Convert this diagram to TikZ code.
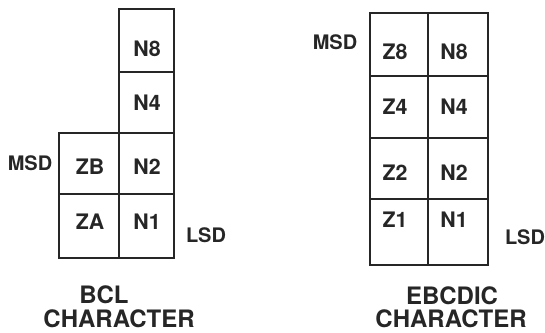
\documentclass[tikz,border=0pt]{standalone}
\usepackage{fontspec}
\setmainfont{TeX Gyre Heros}
\begin{document}
\begin{tikzpicture}[x=0.75pt,y=-0.75pt,
  gridline/.style={draw=black!85, line width=1.5pt},
  celltxt/.style={font=\bfseries\fontsize{16}{16}\selectfont, text=black!85},
  sidetxt/.style={font=\bfseries\fontsize{15}{15}\selectfont, text=black!85},
  captxt/.style={font=\bfseries\fontsize{18}{18}\selectfont, text=black!85, anchor=base, inner sep=0pt}]
\useasboundingbox (0,0) rectangle (545,332);
% BCL
\draw[gridline] (119,9) rectangle (174,258);
\draw[gridline] (59,133) rectangle (119,258);
\draw[gridline] (119,72) -- (174,72);
\draw[gridline] (59,133) -- (174,133);
\draw[gridline] (59,194) -- (174,194);
\node[celltxt] (bn8) at (147,49) {N8};
\node[celltxt] (bn4) at (147,103) {N4};
\node[celltxt] (bn2) at (147,167) {N2};
\node[celltxt] (bzb) at (90,167) {ZB};
\node[celltxt] (bn1) at (147,222) {N1};
\node[celltxt] (bza) at (90,222) {ZA};
\node[sidetxt] (bmsd) at (30,163) {MSD};
\node[sidetxt] (blsd) at (206,235) {LSD};
\node[captxt] (bcap1) at (104,303) {BCL};
\node[captxt] (bcap2) at (119,327) {CHARACTER};
% EBCDIC
\draw[gridline] (370,13) rectangle (488,265);
\draw[gridline] (428,13) -- (428,265);
\draw[gridline] (370,76) -- (488,76);
\draw[gridline] (370,138) -- (488,138);
\draw[gridline] (370,199) -- (488,199);
\node[celltxt] (ez8) at (395,52) {Z8};
\node[celltxt] (en8) at (454,52) {N8};
\node[celltxt] (ez4) at (395,107) {Z4};
\node[celltxt] (en4) at (454,107) {N4};
\node[celltxt] (ez2) at (395,173) {Z2};
\node[celltxt] (en2) at (454,173) {N2};
\node[celltxt] (ez1) at (395,220) {Z1};
\node[celltxt] (en1) at (454,220) {N1};
\node[sidetxt] (emsd) at (335,42) {MSD};
\node[sidetxt] (elsd) at (525,237) {LSD};
\node[captxt] (ecap1) at (452,304) {EBCDIC};
\node[captxt] (ecap2) at (451,327) {CHARACTER};
\end{tikzpicture}
\end{document}
